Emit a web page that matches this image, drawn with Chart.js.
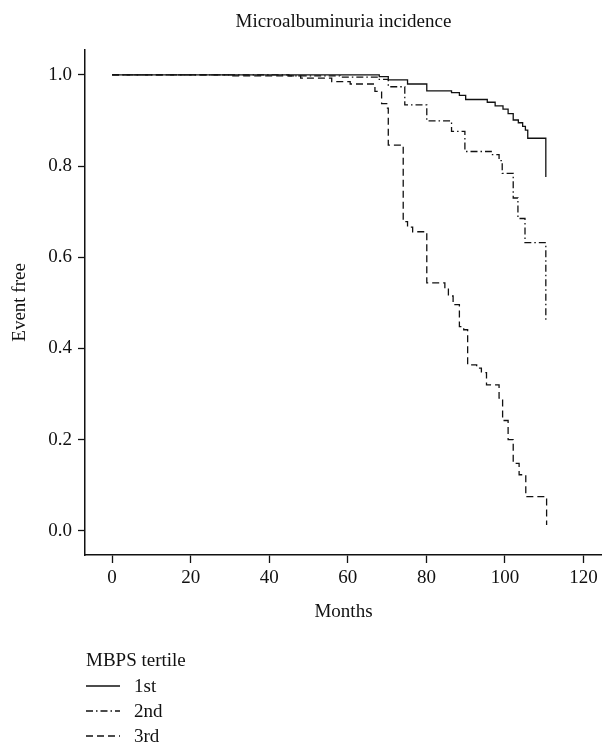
<!DOCTYPE html>
<html>
<head>
<meta charset="utf-8">
<script src="https://cdn.jsdelivr.net/npm/chart.js@4/dist/chart.umd.min.js"></script>
<style>
    body { margin: 0; background: #fff; }
    #wrap { position: relative; width: 602px; height: 750px; }
    #legend { position: absolute; left: 86px; top: 647px; font-family: "Liberation Serif", serif; font-size: 19px; color: #111; }
    #legend .row { height: 25px; display: flex; align-items: center; }
    #legend .title { height: 26px; }
    #legend svg { width: 36px; height: 10px; margin-right: 12px; }
</style>
</head>
<body>
<div id="wrap">
    <canvas id="kmChart" width="602" height="750"></canvas>
    <div id="legend"></div>
</div>
<script>
// Kaplan-Meier steps (month of drop, event-free after drop)
const months1st = [0, 68.0, 70.3, 75.2, 80.1, 86.4, 88.4, 90.0, 95.5, 97.5, 99.5, 100.8, 102.1, 103.4, 104.5, 105.2, 105.8, 110.4];
const surv1st   = [1.0, 0.996, 0.989, 0.980, 0.965, 0.961, 0.955, 0.946, 0.940, 0.932, 0.925, 0.915, 0.901, 0.895, 0.887, 0.879, 0.861, 0.776];

const months2nd = [0, 45.0, 58.0, 68.0, 70.3, 74.5, 80.1, 86.4, 89.8, 96.5, 98.5, 99.3, 102.1, 103.3, 105.1, 110.4];
const surv2nd   = [1.0, 0.998, 0.995, 0.990, 0.974, 0.934, 0.899, 0.876, 0.832, 0.825, 0.812, 0.784, 0.730, 0.685, 0.632, 0.463];

const months3rd = [0, 30.0, 48.0, 55.9, 60.6, 66.9, 68.6, 69.9, 70.3, 74.1, 75.2, 76.5, 80.1, 84.7, 85.6, 86.8, 88.4, 89.5, 90.5, 92.8, 94.0, 95.3, 98.5, 99.4, 100.8, 102.1, 103.6, 105.3, 110.6];
const surv3rd   = [1.0, 0.998, 0.993, 0.985, 0.980, 0.964, 0.937, 0.927, 0.846, 0.678, 0.666, 0.656, 0.544, 0.530, 0.515, 0.496, 0.448, 0.441, 0.364, 0.357, 0.347, 0.320, 0.291, 0.242, 0.200, 0.148, 0.123, 0.075, 0.013];

const xTicks = [0, 20, 40, 60, 80, 100, 120];
const yTicks = [0.0, 0.2, 0.4, 0.6, 0.8, 1.0];

const seriesNames = ['1st', '2nd', '3rd'];
const dashes = [[], [7, 3, 1.5, 3], [7, 4]];

const FONT = '"Liberation Serif", "Times New Roman", serif';
const INK = '#111';

function toPoints(xs, ys) {
    return xs.map((x, i) => ({ x: x, y: ys[i] }));
}

const datasets = [
    toPoints(months1st, surv1st),
    toPoints(months2nd, surv2nd),
    toPoints(months3rd, surv3rd)
].map((pts, i) => ({
    label: seriesNames[i],
    data: pts,
    borderColor: INK,
    borderWidth: 1.3,
    borderDash: dashes[i],
    pointRadius: 0,
    stepped: true,
    fill: false
}));

const ctx = document.getElementById('kmChart').getContext('2d');
new Chart(ctx, {
    type: 'line',
    data: { datasets: datasets },
    options: {
        responsive: false,
        animation: false,
        layout: { padding: { top: 0, left: 0, right: 0, bottom: 120 } },
        scales: {
            x: {
                type: 'linear',
                min: -6.9,
                max: 124.7,
                afterBuildTicks: (scale) => { scale.ticks = xTicks.map(v => ({ value: v })); },
                afterFit: (scale) => { scale.height = 75; },
                border: { color: INK, width: 1.5 },
                grid: { drawOnChartArea: false, tickLength: 8, tickColor: INK, tickWidth: 1.3 },
                ticks: { color: INK, font: { family: FONT, size: 19 }, padding: 4, maxRotation: 0 },
                title: { display: true, text: 'Months', color: INK, font: { family: FONT, size: 19 }, padding: { top: 0, bottom: 7 } }
            },
            y: {
                min: -0.053,
                max: 1.055,
                afterBuildTicks: (scale) => { scale.ticks = yTicks.map(v => ({ value: v })); },
                afterFit: (scale) => { scale.width = 85; },
                border: { color: INK, width: 1.5 },
                grid: { drawOnChartArea: false, tickLength: 7, tickColor: INK, tickWidth: 1.3 },
                ticks: { color: INK, font: { family: FONT, size: 19 }, padding: 6, callback: v => Number(v).toFixed(1) },
                title: { display: true, text: 'Event free', color: INK, font: { family: FONT, size: 19 }, padding: { top: 9, bottom: 0 } }
            }
        },
        plugins: {
            legend: { display: false },
            tooltip: { enabled: false },
            title: {
                display: true,
                fullSize: false,
                text: 'Microalbuminuria incidence',
                color: INK,
                font: { family: FONT, size: 19, weight: 'normal' },
                padding: { top: 11, bottom: 16 }
            }
        }
    }
});

// legend below the chart, drawn as html
const legend = document.getElementById('legend');
const head = document.createElement('div');
head.className = 'row title';
head.textContent = 'MBPS tertile';
legend.appendChild(head);
seriesNames.forEach((name, i) => {
    const row = document.createElement('div');
    row.className = 'row';
    const dash = dashes[i].length ? dashes[i].join(' ') : 'none';
    row.innerHTML = `<svg viewBox="0 0 36 10"><line x1="0" y1="5" x2="34" y2="5" stroke="${INK}" stroke-width="1.3" stroke-dasharray="${dash}"/></svg><span>${name}</span>`;
    legend.appendChild(row);
});
</script>
</body>
</html>
